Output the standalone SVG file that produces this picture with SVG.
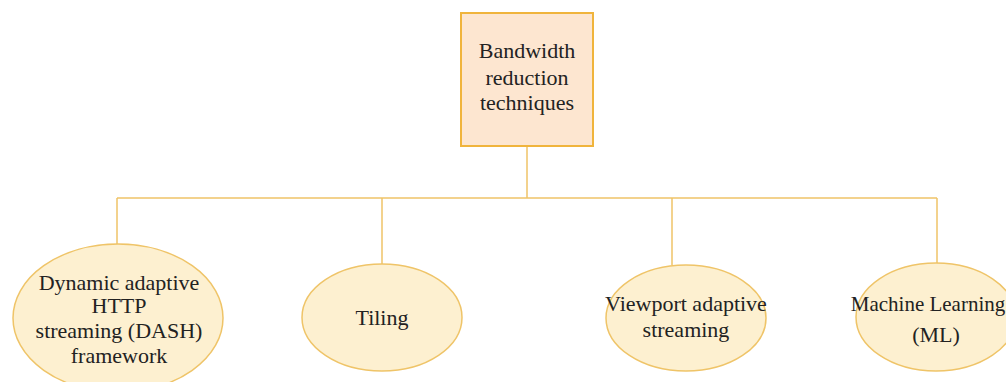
<svg xmlns="http://www.w3.org/2000/svg" width="1006" height="382" viewBox="0 0 1006 382">
<style>
.t{font-family:"Liberation Serif","Times New Roman","DejaVu Serif",serif;font-size:22px;fill:#222;text-anchor:middle}
.s{font-size:21px}
.e{fill:#fdf0d0;stroke:#efc468;stroke-width:1.5}
.c{fill:none;stroke:#efc468;stroke-width:1.5}
</style>
<rect width="1006" height="382" fill="#fff"/>
<g id="connectors">
<path class="c" d="M527 146V198M117 198H937M117 198V244M382 198V264M672 198V265M937 198V263"/>
</g>
<g id="root">
<rect x="461" y="13" width="132" height="133" fill="#fde6d0" stroke="#f0b43c" stroke-width="2"/>
<text class="t" x="527" y="58">Bandwidth</text>
<text class="t" x="527" y="85">reduction</text>
<text class="t" x="527" y="110">techniques</text>
</g>
<g id="dash">
<ellipse class="e" cx="118" cy="318" rx="105" ry="74"/>
<text class="t" x="119" y="290">Dynamic adaptive</text>
<text class="t" x="119" y="313">HTTP</text>
<text class="t" x="119" y="338">streaming (DASH)</text>
<text class="t" x="119" y="363">framework</text>
</g>
<g id="tiling">
<ellipse class="e" cx="382" cy="317.5" rx="80" ry="53.5"/>
<text class="t" x="382" y="325">Tiling</text>
</g>
<g id="viewport">
<ellipse class="e" cx="686" cy="318" rx="80" ry="53"/>
<text class="t" x="686" y="311">Viewport adaptive</text>
<text class="t" x="686" y="337">streaming</text>
</g>
<g id="ml">
<ellipse class="e" cx="936" cy="317" rx="80" ry="54"/>
<text class="t s" x="928" y="311">Machine Learning</text>
<text class="t" x="936" y="342">(ML)</text>
</g>
</svg>
